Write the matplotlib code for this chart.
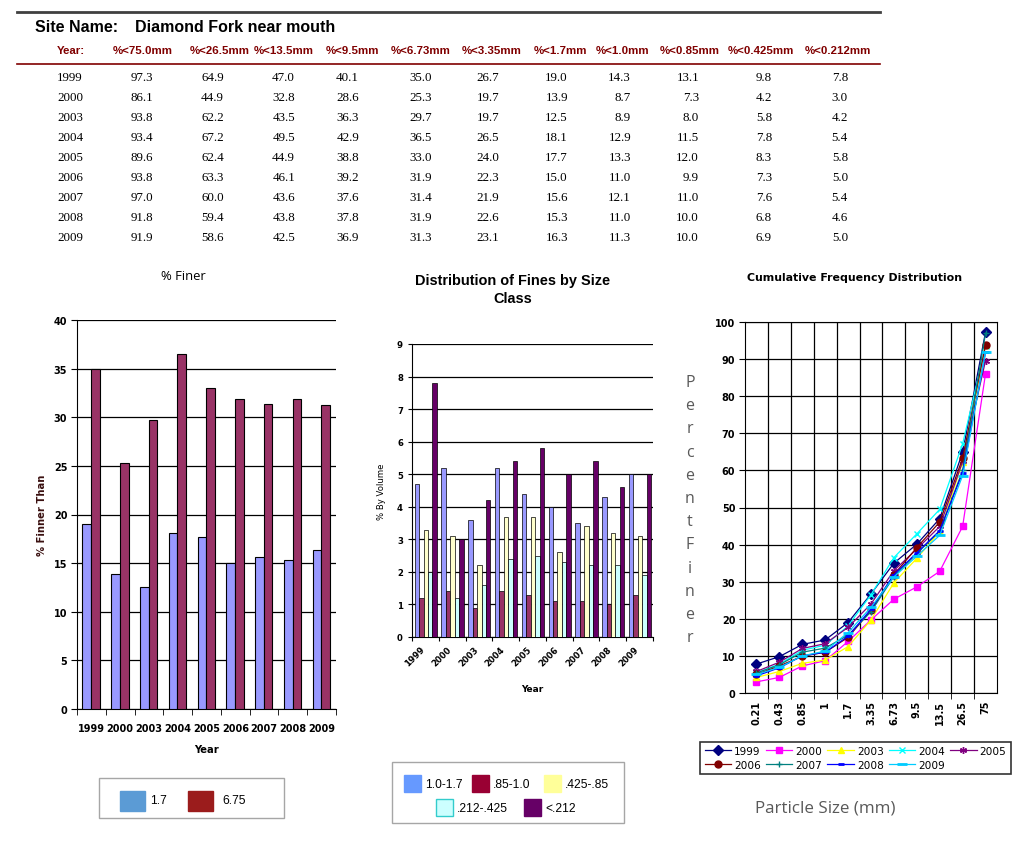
import numpy as np
import matplotlib
matplotlib.use("Agg")
import matplotlib.pyplot as plt
from matplotlib.patches import Rectangle

W, H = 1017, 845

years = ['1999', '2000', '2003', '2004', '2005', '2006', '2007', '2008', '2009']
p75_0 = [97.3, 86.1, 93.8, 93.4, 89.6, 93.8, 97.0, 91.8, 91.9]
p26_5 = [64.9, 44.9, 62.2, 67.2, 62.4, 63.3, 60.0, 59.4, 58.6]
p13_5 = [47.0, 32.8, 43.5, 49.5, 44.9, 46.1, 43.6, 43.8, 42.5]
p9_5 = [40.1, 28.6, 36.3, 42.9, 38.8, 39.2, 37.6, 37.8, 36.9]
p6_73 = [35.0, 25.3, 29.7, 36.5, 33.0, 31.9, 31.4, 31.9, 31.3]
p3_35 = [26.7, 19.7, 19.7, 26.5, 24.0, 22.3, 21.9, 22.6, 23.1]
p1_7 = [19.0, 13.9, 12.5, 18.1, 17.7, 15.0, 15.6, 15.3, 16.3]
p1_0 = [14.3, 8.7, 8.9, 12.9, 13.3, 11.0, 12.1, 11.0, 11.3]
p0_85 = [13.1, 7.3, 8.0, 11.5, 12.0, 9.9, 11.0, 10.0, 10.0]
p0_425 = [9.8, 4.2, 5.8, 7.8, 8.3, 7.3, 7.6, 6.8, 6.9]
p0_212 = [7.8, 3.0, 4.2, 5.4, 5.8, 5.0, 5.4, 4.6, 5.0]

headers = ['%<75.0mm', '%<26.5mm', '%<13.5mm', '%<9.5mm', '%<6.73mm', '%<3.35mm',
           '%<1.7mm', '%<1.0mm', '%<0.85mm', '%<0.425mm', '%<0.212mm']
columns = [p75_0, p26_5, p13_5, p9_5, p6_73, p3_35, p1_7, p1_0, p0_85, p0_425, p0_212]

sizes = ['0.21', '0.43', '0.85', '1', '1.7', '3.35', '6.73', '9.5', '13.5', '26.5', '75']

fine_labels = ['1.0-1.7', '.85-1.0', '.425-.85', '.212-.425', '<.212']
fine_colors = ['#9999FF', '#993366', '#FFFFCC', '#CCFFFF', '#660066']

year_colors = ['#000080', '#FF00FF', '#FFFF00', '#00FFFF', '#800080',
               '#800000', '#008080', '#0000FF', '#00CCFF']
year_markers = ['D', 's', '^', 'x', (6, 2, 0), 'o', '+', '_', '_']


def px(v):
    return v * 0.72


fig = plt.figure(figsize=(W / 100, H / 100), dpi=100)
fig.patch.set_facecolor('white')

# overlay in pixel coordinates for table and legends
ov = fig.add_axes([0, 0, 1, 1], zorder=5)
ov.set_xlim(0, W)
ov.set_ylim(H, 0)
ov.axis('off')
ov.patch.set_alpha(0)


def ax_at(x0, y0, x1, y1):
    return fig.add_axes([x0 / W, 1 - y1 / H, (x1 - x0) / W, (y1 - y0) / H])


# ---- table ----
ov.plot([17, 880], [13, 13], color='#404040', lw=2)
ov.text(35, 27, 'Site Name:', fontsize=px(16), fontweight='bold',
        family='Liberation Sans', va='center')
ov.text(135, 27, 'Diamond Fork near mouth', fontsize=px(16), fontweight='bold',
        family='Liberation Sans', va='center')
hdr_x = [143, 220, 284, 353, 421, 492, 560, 623, 690, 761, 838]
val_x = [153, 224, 295, 359, 432, 499, 568, 631, 699, 772, 848]
ov.text(57, 51, 'Year:', fontsize=px(11.5), fontweight='bold', color='#800000',
        family='Liberation Sans', va='center')
for x, h in zip(hdr_x, headers):
    ov.text(x, 51, h, fontsize=px(11.5), fontweight='bold', color='#800000',
            family='Liberation Sans', va='center', ha='center')
ov.plot([17, 880], [65, 65], color='#800000', lw=1.2)
for r, yr in enumerate(years):
    y = 78 + 20 * r
    ov.text(57, y, yr, fontsize=px(13), family='Liberation Serif', va='center')
    for x, col in zip(val_x, columns):
        ov.text(x, y, f'{col[r]:.1f}', fontsize=px(13), family='Liberation Serif',
                va='center', ha='right')

# ---- left chart: % Finer ----
ax1 = ax_at(77, 321, 336, 710)
xi = np.arange(len(years))
ax1.bar(xi - 0.31, p1_7, width=0.3, align='edge', color='#9999FF',
        edgecolor='black', lw=0.8, zorder=3)
ax1.bar(xi - 0.01, p6_73, width=0.3, align='edge', color='#993366',
        edgecolor='black', lw=0.8, zorder=3)
ax1.set_xlim(-0.5, len(years) - 0.5)
ax1.set_ylim(0, 40)
ax1.set_yticks(range(0, 41, 5))
ax1.yaxis.grid(True, color='black', lw=0.9, zorder=0)
ax1.set_xticks(xi)
ax1.set_xticklabels(years)
ax1.set_xticks(np.arange(-0.5, len(years)), minor=True)
ax1.tick_params(axis='x', which='major', length=0, pad=10)
ax1.tick_params(axis='x', which='minor', length=4, direction='out', color='black')
ax1.tick_params(axis='y', length=4, direction='out', color='black', pad=3)
for lab in ax1.get_xticklabels() + ax1.get_yticklabels():
    lab.set_fontsize(px(9.8))
    lab.set_fontweight('bold')
for s in ['top', 'right']:
    ax1.spines[s].set_visible(False)
for s in ['left', 'bottom']:
    ax1.spines[s].set_color('black')
ax1.set_xlabel('Year', fontsize=px(10), fontweight='bold', labelpad=8)
ax1.set_ylabel('% Finner Than', fontsize=px(10), fontweight='bold', labelpad=5,
               color='#3a1010')
fig.text(183 / W, 1 - 277 / H, '% Finer', fontsize=px(13), family='Open Sans',
         ha='center', va='center')

# left legend
ov.add_patch(Rectangle((99, 779), 185, 40, fill=False, edgecolor='#a6a6a6', lw=1))
ov.add_patch(Rectangle((120, 792), 25, 20, color='#5B9BD5'))
ov.text(150, 801, '1.7', fontsize=px(12), family='Liberation Sans', va='center')
ov.add_patch(Rectangle((188, 792), 25, 20, color='#9B1C1C'))
ov.text(222, 801, '6.75', fontsize=px(12), family='Liberation Sans', va='center')

# ---- middle chart: distribution of fines ----
fines = [np.round(np.array(p1_7) - np.array(p1_0), 2),
         np.round(np.array(p1_0) - np.array(p0_85), 2),
         np.round(np.array(p0_85) - np.array(p0_425), 2),
         np.round(np.array(p0_425) - np.array(p0_212), 2),
         np.array(p0_212)]
ax2 = ax_at(412, 345, 653, 638)
bw = 0.166
for k, (vals, c) in enumerate(zip(fines, fine_colors)):
    ax2.bar(xi - 0.4 + k * bw, vals, width=bw, align='edge', color=c,
            edgecolor='black', lw=0.5, zorder=3)
ax2.set_xlim(-0.5, len(years) - 0.5)
ax2.set_ylim(0, 9)
ax2.set_yticks(range(0, 10))
ax2.yaxis.grid(True, color='black', lw=0.9, zorder=0)
ax2.set_xticks(np.arange(-0.5, len(years)))
ax2.set_xticklabels([])
ax2.set_xticks(xi - 0.2, minor=True)
ax2.set_xticklabels(years, minor=True, rotation=45, ha='right', rotation_mode='anchor')
ax2.tick_params(axis='x', which='minor', length=0, pad=5)
ax2.tick_params(axis='x', which='major', length=3, direction='out', color='black')
ax2.tick_params(axis='y', length=3, direction='out', color='black')
for lab in ax2.get_xticklabels(minor=True) + ax2.get_yticklabels():
    lab.set_fontsize(px(8.5))
    lab.set_fontweight('bold')
for s in ['top', 'right']:
    ax2.spines[s].set_visible(False)
ax2.set_xlabel('Year', fontsize=px(9), fontweight='bold', labelpad=12)
ax2.set_ylabel('% By Volume', fontsize=px(8.5), labelpad=8)
fig.text(513 / W, 1 - 290 / H, 'Distribution of Fines by Size\nClass',
         fontsize=px(14.5), fontweight='bold', family='Liberation Sans',
         ha='center', va='center', linespacing=1.4)

# middle legend
ov.add_patch(Rectangle((392, 763), 232, 61, fill=False, edgecolor='#a6a6a6', lw=1))
leg_pos = [(404, 784.5), (472, 784.5), (544, 784.5), (436, 808.5), (524, 808.5)]
for (lx, ly), lab, c in zip(leg_pos, fine_labels,
                            ['#6699FF', '#990033', '#FFFF99', '#CCFFFF', '#660066']):
    ec = '#33CCCC' if lab == '.212-.425' else c
    ov.add_patch(Rectangle((lx, ly - 8.5), 17, 17, facecolor=c, edgecolor=ec, lw=1))
    ov.text(lx + 21, ly + 0.5, lab, fontsize=px(12), family='Liberation Sans',
            va='center')

# ---- right chart: cumulative frequency ----
ax3 = ax_at(745, 323, 997, 694)
cum_cols = [p0_212, p0_425, p0_85, p1_0, p1_7, p3_35, p6_73, p9_5, p13_5, p26_5, p75_0]
si = np.arange(len(sizes))
handles = []
for r, yr in enumerate(years):
    yv = [col[r] for col in cum_cols]
    m = year_markers[r]
    ms = 5
    mew = 1
    if yr == '2009':
        ms = 7
        mew = 2
    elif yr == '2008':
        ms = 4
        mew = 2
    ln, = ax3.plot(si, yv, color=year_colors[r], lw=0.9, marker=m, markersize=ms,
                   markeredgewidth=mew, zorder=3, label=yr)
    handles.append(ln)
ax3.set_xlim(-0.5, len(sizes) - 0.5)
ax3.set_ylim(0, 100)
ax3.set_yticks(range(0, 101, 10))
ax3.yaxis.grid(True, color='black', lw=0.9, zorder=0)
ax3.set_xticks(np.arange(0.5, len(sizes) - 0.5), minor=True)
ax3.xaxis.grid(True, which='minor', color='black', lw=0.9, zorder=0)
ax3.set_xticks(si)
ax3.set_xticklabels(sizes, rotation=90)
ax3.tick_params(axis='x', which='major', length=0, pad=5)
ax3.tick_params(axis='x', which='minor', length=4, direction='out', color='black')
ax3.tick_params(axis='y', length=4, direction='out', color='black', pad=3)
for lab in ax3.get_xticklabels() + ax3.get_yticklabels():
    lab.set_fontsize(px(9.8))
    lab.set_fontweight('bold')
for s in ax3.spines.values():
    s.set_color('black')
fig.text(855 / W, 1 - 278 / H, 'Cumulative Frequency Distribution',
         fontsize=px(11), fontweight='bold', family='DejaVu Sans',
         ha='center', va='center')

order = [0, 5, 1, 6, 2, 7, 3, 8, 4]
leg = fig.legend([handles[i] for i in order], [years[i] for i in order], ncol=5,
                 loc='center', bbox_to_anchor=(855.5 / W, 1 - 759 / H),
                 frameon=True, fancybox=False, edgecolor='black',
                 prop={'size': px(10.5), 'family': 'DejaVu Sans'},
                 handlelength=2.5, handletextpad=0.3, columnspacing=0.5,
                 borderpad=0.4, labelspacing=0.4)
leg.get_frame().set_linewidth(1.2)

# Percent Finer, letter by letter
for k, ch in enumerate('PercentFiner'):
    ov.text(690, 383 + k * 23.2, ch, fontsize=px(16), family='Open Sans',
            color='#595959', ha='center', va='center')
ov.text(825, 809, 'Particle Size (mm)', fontsize=px(17), family='Open Sans',
        color='#595959', ha='center', va='center')

fig.savefig('out.png', dpi=100, facecolor='white')
